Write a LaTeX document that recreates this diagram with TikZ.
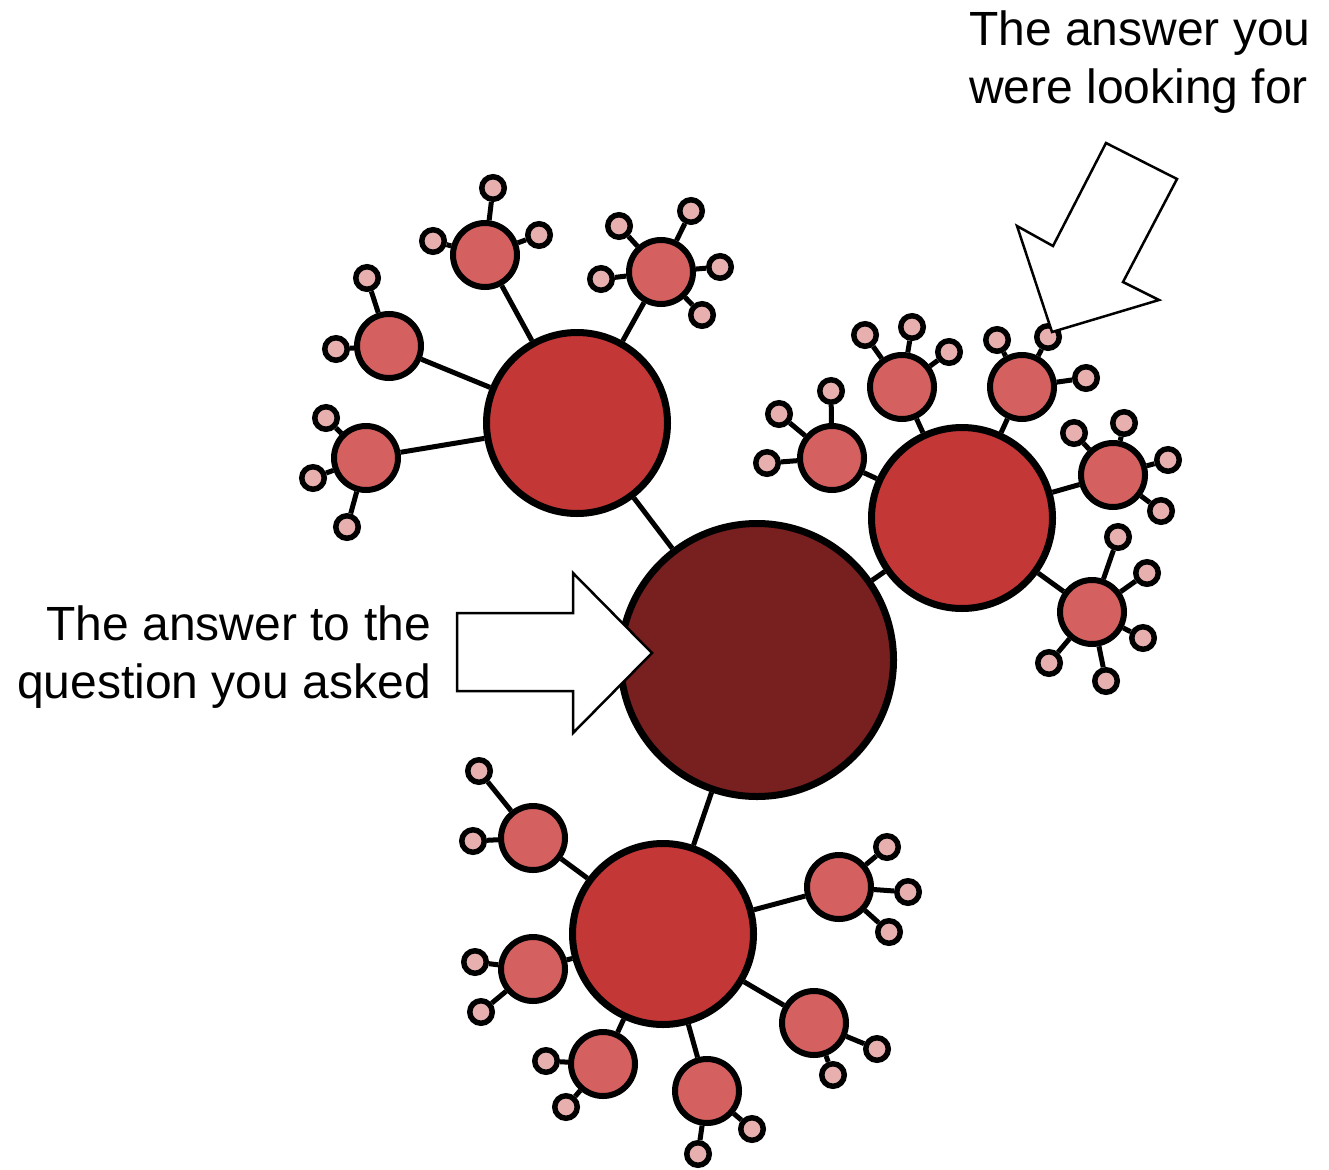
\documentclass[tikz,border=0pt]{standalone}
\usepackage{fontspec}
\setmainfont{Liberation Sans}
\definecolor{cmain}{HTML}{78201F}
\definecolor{cone}{HTML}{C43737}
\definecolor{ctwo}{HTML}{D46060}
\definecolor{cthree}{HTML}{E8AFAF}
\tikzset{
  base/.style={circle, draw=black, inner sep=0pt},
  lmain/.style={base, fill=cmain, line width=7pt, minimum size=273pt},
  lone/.style={base, fill=cone, line width=7pt, minimum size=181pt},
  ltwo/.style={base, fill=ctwo, line width=6pt, minimum size=64pt},
  lthree/.style={base, fill=cthree, line width=5.5pt, minimum size=22.5pt},
  edge/.style={draw=black, line width=5pt},
  bigarrow/.style={draw=black, fill=white, line width=2.5pt, line join=miter},
  lbl/.style={inner sep=0pt, font=\fontsize{48pt}{58pt}\selectfont}
}
\begin{document}
\begin{tikzpicture}[x=1pt,y=-1pt]
\useasboundingbox (0,0) rectangle (1329,1169);
\fill[white] (0,0) rectangle (1329,1169);

\node[lmain] (m) at (757,660) {};
\node[lone] (A) at (577,423) {};
\node[lone] (B) at (962,518) {};
\node[lone] (C) at (663,934) {};
\draw[edge] (m) -- (A);
\draw[edge] (m) -- (B);
\draw[edge] (m) -- (C);

% second level
\foreach \n/\x/\y/\p in {
  a1/485/255/A, a2/661/272/A, a3/389/346/A, a4/366/458/A,
  b1/832/458/B, b2/902/387/B, b3/1022/387/B, b4/1113/475/B, b5/1092/612/B,
  c1/533/838/C, c2/839/887/C, c3/533/969/C, c4/814/1023/C, c5/603/1064/C, c6/707/1091/C}{
  \node[ltwo] (\n) at (\x,\y) {};
  \draw[edge] (\p) -- (\n);
}

% third level
\foreach \n/\x/\y/\p in {
  a1x/493/188/a1, a1y/433/241/a1, a1z/539/235/a1,
  a2x/619/226/a2, a2y/691/211/a2, a2z/601/279/a2, a2u/720/267/a2, a2v/702/315/a2,
  a3x/367/278/a3, a3y/336/349/a3,
  a4x/326/418/a4, a4y/313/478/a4, a4z/347/527/a4,
  b1x/779/414/b1, b1y/831/391/b1, b1z/767/463/b1,
  b2x/865/335/b2, b2y/912/327/b2, b2z/949/352/b2,
  b3x/997/340/b3, b3y/1048/337/b3, b3z/1086/378/b3,
  b4x/1074/433/b4, b4y/1124/423/b4, b4z/1168/460/b4, b4u/1161/511/b4,
  b5x/1118/537/b5, b5y/1147/573/b5, b5z/1143/638/b5, b5u/1049/663/b5, b5v/1106/681/b5,
  c1x/479/771/c1, c1y/473/841/c1,
  c2x/887/847/c2, c2y/908/892/c2, c2z/889/932/c2,
  c3x/475/962/c3, c3y/481/1012/c3,
  c4x/877/1049/c4, c4y/833/1075/c4,
  c5x/546/1061/c5, c5y/566/1107/c5,
  c6x/752/1129/c6, c6y/698/1154/c6}{
  \node[lthree] (\n) at (\x,\y) {};
  \draw[edge] (\p) -- (\n);
}

% arrows
\draw[bigarrow] (457,613) -- (573,613) -- (573,573) -- (652,653) -- (573,733) -- (573,691) -- (457,691) -- cycle;
\draw[bigarrow] (1106,143) -- (1177,179) -- (1123,282) -- (1159,300) -- (1052,332) -- (1017,226) -- (1053,246) -- cycle;

% labels
\node[lbl, anchor=north east, align=right] (t1) at (431,606) {The answer to the\\question you asked};
\node[lbl, anchor=north west, align=left] (t2) at (969,11) {The answer you\\were looking for};
\end{tikzpicture}
\end{document}
